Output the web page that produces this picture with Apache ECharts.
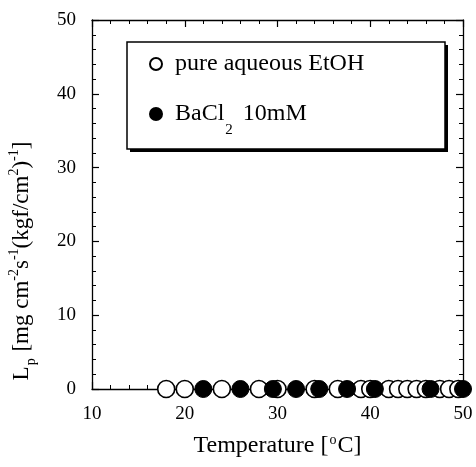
<!DOCTYPE html>
<html>
<head>
<meta charset="utf-8">
<script src="https://cdn.jsdelivr.net/npm/echarts@6/dist/echarts.min.js"></script>
<style>
  html, body { margin: 0; padding: 0; background: #fff; }
  #chart { width: 476px; height: 467px; }
</style>
</head>
<body>
<div id="chart"></div>
<script>
// Tick values on both axes
const xTicks = [10, 20, 30, 40, 50];
const yTicks = [0, 10, 20, 30, 40, 50];

// Permeability vs temperature, pure aqueous ethanol
const pureTemp = [18, 20, 24, 28, 30, 34, 36.5, 39, 40, 42, 43, 44, 45, 46, 47.5, 48.5, 49.5];
const pureLp   = [0, 0, 0, 0, 0, 0, 0, 0, 0, 0, 0, 0, 0, 0, 0, 0, 0];

// Permeability vs temperature, with BaCl2 10 mM
const bacl2Temp = [22, 26, 29.5, 32, 34.5, 37.5, 40.5, 46.5, 50];
const bacl2Lp   = [0, 0, 0, 0, 0, 0, 0, 0, 0];

const FONT = 'Liberation Serif';
const INK = '#000';

function pairs(xs, ys) {
  return xs.map((x, i) => [x, ys[i]]);
}

function axisBase(ticks, showLabels, position) {
  return {
    type: 'value',
    position: position,
    min: ticks[0],
    max: ticks[ticks.length - 1],
    interval: ticks[1] - ticks[0],
    axisLine: { show: true, onZero: false, lineStyle: { color: INK, width: 1.3 } },
    axisTick: { show: true, inside: true, length: 7, lineStyle: { color: INK, width: 1.2 } },
    minorTick: { show: true, splitNumber: 5, length: 4, lineStyle: { color: INK, width: 1 } },
    splitLine: { show: false },
    axisLabel: {
      show: showLabels,
      margin: 16,
      color: INK,
      fontFamily: FONT,
      fontSize: 19
    }
  };
}

const chart = echarts.init(document.getElementById('chart'), null, { renderer: 'canvas' });

const serifRich = (size) => ({ fontFamily: FONT, fontSize: size, color: INK });

// Legend frame with a solid drop shadow
const legendBox = { x: 127, y: 42, width: 318, height: 107, shadow: 3 };

chart.setOption({
  animation: false,
  backgroundColor: '#fff',
  grid: { left: 92, right: 13, top: 20, bottom: 78 },
  xAxis: [
    Object.assign(axisBase(xTicks, true, 'bottom'), {
      name: '{t|Temperature [}{sp|o}{t|C]}',
      nameLocation: 'middle',
      nameGap: 44,
      nameTextStyle: {
        rich: {
          t: serifRich(24),
          sp: Object.assign(serifRich(14), { padding: [0, 1, 12, 1] })
        }
      }
    }),
    axisBase(xTicks, false, 'top')
  ],
  yAxis: [
    axisBase(yTicks, true, 'left'),
    axisBase(yTicks, false, 'right')
  ],
  graphic: [
    {
      type: 'rect',
      z: 3,
      shape: {
        x: legendBox.x + legendBox.shadow,
        y: legendBox.y + legendBox.shadow,
        width: legendBox.width,
        height: legendBox.height
      },
      style: { fill: INK }
    },
    {
      type: 'rect',
      z: 3,
      shape: { x: legendBox.x, y: legendBox.y, width: legendBox.width, height: legendBox.height },
      style: { fill: '#fff', stroke: INK, lineWidth: 1.5 }
    },
    {
      type: 'text',
      x: 22,
      y: 261,
      rotation: Math.PI / 2,
      style: {
        text: '{t|L}{sb|p}{t| [mg cm}{sp|-2}{t|s}{sp|-1}{t|(kgf/cm}{sp|2}{t|)}{sp|-1}{t|]}',
        align: 'center',
        verticalAlign: 'middle',
        fontFamily: FONT,
        fontSize: 23,
        fill: INK,
        rich: {
          t: { fontFamily: FONT, fontSize: 23, fill: INK },
          sp: { fontFamily: FONT, fontSize: 14, fill: INK, padding: [0, 0, 15, 0] },
          sb: { fontFamily: FONT, fontSize: 14, fill: INK, padding: [18, 1, 0, 1] }
        }
      }
    }
  ],
  legend: {
    left: legendBox.x,
    top: legendBox.y,
    z: 5,
    orient: 'vertical',
    itemGap: 26,
    itemWidth: 12,
    itemHeight: 12,
    padding: [10, 20, 10, 22],
    borderWidth: 0,
    backgroundColor: 'transparent',
    formatter: (name) => name.startsWith('BaCl')
      ? '{t|BaCl}{s|2}{t| 10mM}'
      : '{t|' + name + '}',
    textStyle: {
      fontFamily: FONT,
      fontSize: 24,
      color: INK,
      padding: [0, 0, 0, 8],
      rich: {
        t: { fontFamily: FONT, fontSize: 24, color: INK },
        s: { fontFamily: FONT, fontSize: 15, color: INK, padding: [32, 4, 0, 1] }
      }
    },
    data: ['pure aqueous EtOH', 'BaCl2 10mM']
  },
  series: [
    {
      name: 'pure aqueous EtOH',
      type: 'scatter',
      clip: false,
      symbol: 'circle',
      symbolSize: 17,
      itemStyle: { color: '#fff', borderColor: INK, borderWidth: 1.6, opacity: 1 },
      data: pairs(pureTemp, pureLp)
    },
    {
      name: 'BaCl2 10mM',
      type: 'scatter',
      clip: false,
      symbol: 'circle',
      symbolSize: 17,
      itemStyle: { color: INK, borderColor: INK, borderWidth: 1, opacity: 1 },
      data: pairs(bacl2Temp, bacl2Lp)
    }
  ]
});
</script>
</body>
</html>
